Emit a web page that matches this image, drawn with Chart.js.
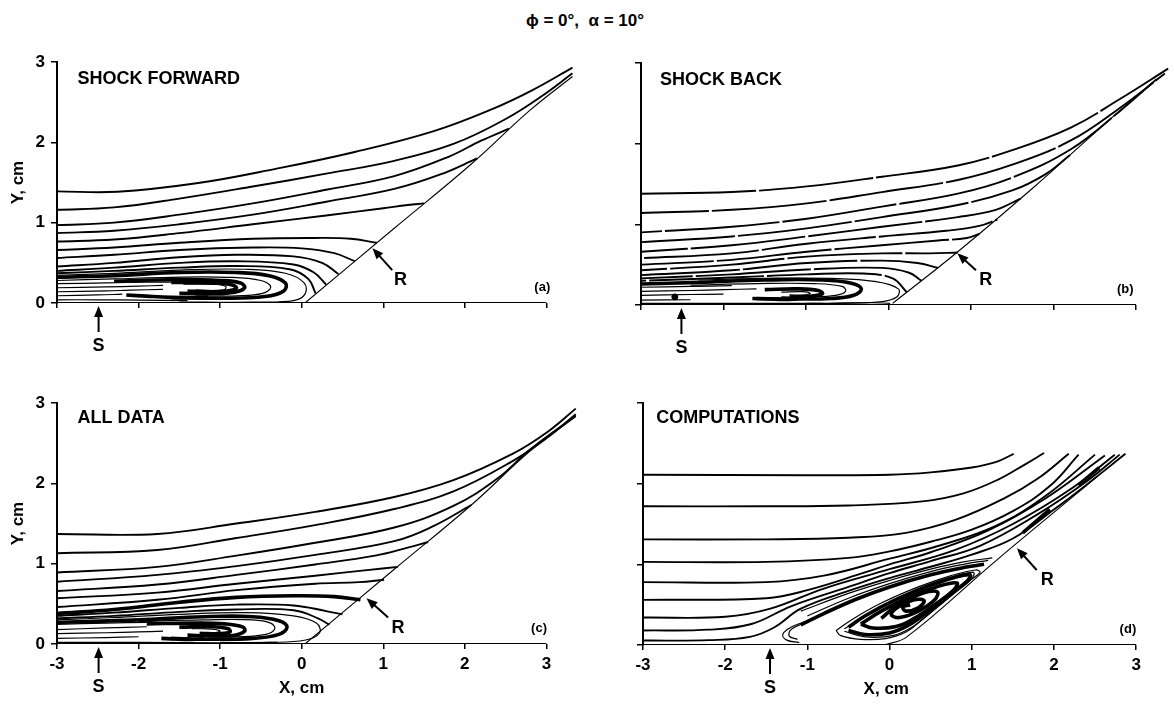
<!DOCTYPE html>
<html>
<head>
<meta charset="utf-8">
<title>Streamlines, phi = 0, alpha = 10</title>
<script src="https://cdn.jsdelivr.net/npm/chart.js@4.4.1/dist/chart.umd.min.js"></script>
<style>
  html, body { margin: 0; padding: 0; background: #fff; }
  body { width: 1174px; height: 706px; position: relative; overflow: hidden; }
  canvas.box { position: absolute; }
  #title { position: absolute; left: 0; top: 11px; width: 1170px; text-align: center;
           font: bold 17px "Liberation Sans", Arial, sans-serif; line-height: 20px; color: #000; }
</style>
</head>
<body>
<div id="title">ϕ = 0°,&nbsp; α = 10°</div>
<canvas id="pa" class="box" width="600" height="320" style="left:0;top:40px"></canvas>
<canvas id="pb" class="box" width="594" height="320" style="left:580px;top:40px"></canvas>
<canvas id="pc" class="box" width="600" height="326" style="left:0;top:380px"></canvas>
<canvas id="pd" class="box" width="594" height="326" style="left:580px;top:380px"></canvas>
<script>
const FONT = '"Liberation Sans", Arial, sans-serif';

// axes
const xTicks = [-3, -2, -1, 0, 1, 2, 3];
const yTicks = [0, 1, 2, 3];
const wallLine = [[-3, 0], [3, 0]];

// (a) shock forward
const aShock = [[0.04, 0], [1.135, 0.93], [2.08, 1.73], [2.8, 2.4], [3.32, 2.82]];
const aOuter = [
  [[-3, 1.39], [-2.26, 1.385], [-1.29, 1.49], [-0.32, 1.67], [0.65, 1.88], [1.62, 2.14], [2.35, 2.42], [2.83, 2.65], [3.32, 2.93]],
  [[-3, 1.16], [-2.3, 1.19], [-1.5, 1.3], [-0.6, 1.45], [0.3, 1.61], [1.135, 1.77], [1.86, 1.98], [2.5, 2.29], [2.95, 2.58], [3.32, 2.86]],
  [[-3, 0.97], [-2.3, 1.0], [-1.5, 1.1], [-0.6, 1.24], [0.3, 1.41], [1.135, 1.58], [1.8, 1.82], [2.2, 2.02], [2.54, 2.17]],
  [[-3, 0.87], [-2.3, 0.9], [-1.5, 0.98], [-0.6, 1.1], [0.3, 1.26], [1.135, 1.42], [1.7, 1.6], [2.15, 1.8]],
  [[-3, 0.765], [-2.3, 0.79], [-1.5, 0.87], [-0.6, 0.98], [0.3, 1.09], [1.0, 1.18], [1.3, 1.22], [1.5, 1.24]],
  [[-3, 0.66], [-2.3, 0.69], [-1.5, 0.75], [-0.6, 0.8], [0.165, 0.81], [0.6, 0.8], [0.92, 0.75]],
  [[-3, 0.56], [-2.3, 0.6], [-1.5, 0.66], [-0.6, 0.69], [0.0, 0.68], [0.4, 0.62], [0.65, 0.52]],
  [[-3, 0.455], [-2.3, 0.5], [-1.5, 0.57], [-0.8, 0.6], [-0.1, 0.58], [0.25, 0.5], [0.45, 0.36]],
  [[-3, 0.4], [-2.3, 0.44], [-1.5, 0.5], [-0.8, 0.52], [-0.1, 0.48], [0.15, 0.38], [0.3, 0.23]],
  [[-3, 0.37], [-2.3, 0.4], [-1.5, 0.44], [-0.8, 0.46], [-0.15, 0.42], [0.08, 0.3], [0.17, 0.12]]
];
const aThin = [
  [[-3, 0.345], [-2.3, 0.37], [-1.5, 0.41], [-0.7, 0.42], [-0.2, 0.37], [0.03, 0.25], [0.04, 0.11], [-0.1, 0.03], [-0.6, 0.012], [-1.5, 0.01]],
  [[-3, 0.28], [-2.3, 0.3], [-1.6, 0.32], [-0.9, 0.32], [-0.5, 0.28], [-0.38, 0.2], [-0.48, 0.12], [-0.8, 0.09], [-1.3, 0.085]],
  [[-1.45, 0.235], [-1.05, 0.23], [-0.93, 0.205], [-0.95, 0.165], [-1.1, 0.155], [-1.3, 0.165]],
  [[-3, 0.24], [-2.4, 0.25], [-1.9, 0.26], [-1.6, 0.26]],
  [[-3, 0.19], [-2.4, 0.2], [-2.0, 0.21], [-1.7, 0.22]],
  [[-3, 0.14], [-2.4, 0.15], [-2.1, 0.16], [-1.7, 0.17]],
  [[-3, 0.09], [-2.5, 0.1], [-2.2, 0.11]],
  [[-3, 0.04], [-2.5, 0.04], [-2.0, 0.035], [-1.4, 0.03]]
];
const aHeavy = [
  [[-3, 0.32], [-2.3, 0.34], [-1.5, 0.38], [-0.8, 0.38], [-0.4, 0.34], [-0.2, 0.25], [-0.22, 0.15], [-0.45, 0.08], [-1.0, 0.06], [-1.6, 0.065]],
  [[-2.3, 0.27], [-1.6, 0.29], [-1.0, 0.28], [-0.75, 0.25], [-0.7, 0.19], [-0.82, 0.135], [-1.1, 0.115], [-1.5, 0.12]],
  [[-1.6, 0.255], [-1.05, 0.25], [-0.85, 0.225], [-0.8, 0.185], [-0.92, 0.15], [-1.2, 0.14], [-1.4, 0.15]],
  [[-2.15, 0.1], [-1.9, 0.085], [-1.6, 0.07], [-1.35, 0.065], [-1.15, 0.07]]
];

// (b) shock back
const bShock = [[0.05, 0.02], [0.84, 0.66], [1.75, 1.45], [2.66, 2.28], [3.2, 2.76]];
const bOuter = [
  [[-3, 1.38], [-1.9, 1.4], [-0.99, 1.47], [-0.08, 1.59], [0.84, 1.73], [1.5, 1.92], [2.21, 2.2], [2.8, 2.55], [3.39, 2.93]],
  [[-3, 1.14], [-1.9, 1.18], [-0.99, 1.26], [-0.08, 1.4], [0.84, 1.55], [1.5, 1.74], [2.21, 2.04], [2.8, 2.44], [3.35, 2.87]],
  [[-3, 0.9], [-1.9, 0.97], [-0.99, 1.07], [-0.08, 1.22], [0.84, 1.38], [1.5, 1.58], [2.21, 1.93], [2.8, 2.4], [3.25, 2.8]],
  [[-3, 0.78], [-1.9, 0.85], [-0.99, 0.95], [-0.08, 1.09], [0.84, 1.24], [1.5, 1.42], [1.9, 1.62], [2.2, 1.86]],
  [[-3, 0.66], [-1.9, 0.74], [-0.99, 0.85], [-0.08, 0.97], [0.84, 1.09], [1.3, 1.18], [1.6, 1.32]],
  [[-3, 0.58], [-1.9, 0.64], [-0.99, 0.76], [-0.08, 0.85], [0.7, 0.92], [1.1, 0.98], [1.32, 1.06]],
  [[-3, 0.5], [-1.9, 0.56], [-0.99, 0.66], [-0.08, 0.74], [0.6, 0.8], [0.95, 0.83], [1.1, 0.88]],
  [[-3, 0.43], [-1.9, 0.5], [-0.99, 0.6], [-0.08, 0.64], [0.5, 0.64], [0.84, 0.65]],
  [[-3, 0.37], [-1.9, 0.43], [-0.99, 0.52], [-0.08, 0.55], [0.35, 0.52], [0.6, 0.46]],
  [[-3, 0.33], [-1.9, 0.38], [-0.99, 0.44], [-0.08, 0.46], [0.25, 0.4], [0.4, 0.3]],
  [[-3, 0.3], [-1.9, 0.34], [-0.99, 0.38], [-0.3, 0.39], [0.05, 0.33], [0.22, 0.16]]
];
const bThin = [
  [[-2.3, 0.31], [-1.5, 0.33], [-0.7, 0.33], [-0.15, 0.29], [0.12, 0.2], [0.1, 0.1], [-0.1, 0.04], [-0.6, 0.02], [-1.0, 0.02]],
  [[-2.4, 0.245], [-1.6, 0.265], [-0.9, 0.265], [-0.56, 0.23], [-0.52, 0.17], [-0.64, 0.12], [-0.95, 0.1], [-1.3, 0.1]],
  [[-1.3, 0.16], [-1.05, 0.165], [-0.95, 0.145], [-1.02, 0.125], [-1.2, 0.125]],
  [[-3, 0.22], [-2.4, 0.23], [-1.9, 0.24]],
  [[-3, 0.17], [-2.4, 0.18], [-2.0, 0.19], [-1.6, 0.2]],
  [[-3, 0.12], [-2.4, 0.13], [-2.0, 0.135]],
  [[-3, 0.06], [-2.4, 0.065]],
  [[-3, 0.02], [-2, 0.02], [-1, 0.02], [-0.2, 0.03], [0.02, 0.02]]
];
const bHeavy = [
  [[-3, 0.26], [-2.3, 0.28], [-1.5, 0.31], [-0.8, 0.31], [-0.45, 0.27], [-0.33, 0.2], [-0.42, 0.12], [-0.7, 0.08], [-1.2, 0.075], [-1.6, 0.08]],
  [[-1.5, 0.19], [-1.1, 0.2], [-0.85, 0.18], [-0.8, 0.14], [-0.93, 0.11], [-1.2, 0.1]],
  [[-1.65, 0.08], [-1.45, 0.075], [-1.25, 0.07], [-1.1, 0.075]]
];
const bDot = [[-2.59, 0.1]];

// (c) all data
const cShock = [[0.04, 0], [1.135, 0.93], [2.08, 1.73], [2.8, 2.4], [3.36, 2.83]];
const cOuter = [
  [[-3, 1.37], [-1.77, 1.37], [-0.8, 1.5], [0.165, 1.645], [1.135, 1.83], [1.86, 2.04], [2.59, 2.37], [3.0, 2.63], [3.36, 2.93]],
  [[-3, 1.13], [-1.77, 1.17], [-0.8, 1.32], [0.165, 1.48], [1.135, 1.68], [1.86, 1.9], [2.59, 2.28], [3.0, 2.56], [3.36, 2.86]],
  [[-3, 0.89], [-1.77, 0.96], [-0.8, 1.1], [0.165, 1.26], [1.135, 1.45], [1.86, 1.72], [2.4, 2.06], [2.8, 2.42], [3.36, 2.84]],
  [[-3, 0.775], [-1.77, 0.86], [-0.8, 0.97], [0.165, 1.11], [1.135, 1.28], [1.6, 1.46], [2.08, 1.73]],
  [[-3, 0.66], [-1.77, 0.74], [-0.8, 0.86], [0.165, 0.99], [0.9, 1.1], [1.3, 1.2], [1.55, 1.27]],
  [[-3, 0.57], [-1.77, 0.64], [-0.8, 0.75], [0.165, 0.85], [0.8, 0.92], [1.18, 0.96]],
  [[-3, 0.46], [-1.77, 0.55], [-0.8, 0.67], [0.165, 0.75], [0.7, 0.77], [1.01, 0.8]],
  [[-3, 0.35], [-2.3, 0.39], [-1.5, 0.45], [-0.8, 0.49], [-0.1, 0.48], [0.3, 0.41], [0.5, 0.37]],
  [[-3, 0.32], [-2.3, 0.35], [-1.5, 0.4], [-0.8, 0.43], [-0.1, 0.42], [0.2, 0.32], [0.34, 0.24]]
];
const cThin = [
  [[-3, 0.3], [-2.3, 0.33], [-1.5, 0.37], [-0.7, 0.39], [-0.1, 0.35], [0.18, 0.26], [0.22, 0.14], [0.05, 0.05], [-0.4, 0.02], [-1.0, 0.02]],
  [[-2, 0.28], [-1.2, 0.3], [-0.6, 0.3], [-0.38, 0.26], [-0.33, 0.19], [-0.44, 0.12], [-0.8, 0.09], [-1.2, 0.09]],
  [[-1.35, 0.19], [-1.1, 0.185], [-1.0, 0.16], [-1.08, 0.14], [-1.25, 0.145]],
  [[-3, 0.245], [-2.4, 0.26], [-1.9, 0.27]],
  [[-3, 0.18], [-2.4, 0.2], [-1.9, 0.215]],
  [[-3, 0.13], [-2.4, 0.14], [-2.0, 0.15], [-1.7, 0.16]],
  [[-3, 0.07], [-2.4, 0.08], [-2.0, 0.09]],
  [[-3, 0.02], [-2.0, 0.02], [-1.0, 0.015], [-0.3, 0.02]]
];
const cHeavy = [
  [[-3, 0.38], [-2.3, 0.43], [-1.5, 0.52], [-0.8, 0.58], [-0.1, 0.6], [0.4, 0.59], [0.72, 0.55]],
  [[-3, 0.27], [-2, 0.3], [-1.2, 0.34], [-0.6, 0.34], [-0.28, 0.29], [-0.18, 0.21], [-0.28, 0.12], [-0.6, 0.07], [-1.2, 0.06], [-1.6, 0.07]],
  [[-1.9, 0.25], [-1.3, 0.26], [-0.95, 0.25], [-0.72, 0.21], [-0.7, 0.16], [-0.82, 0.11], [-1.1, 0.1], [-1.4, 0.11]],
  [[-1.5, 0.21], [-1.1, 0.215], [-0.9, 0.19], [-0.88, 0.15], [-1.0, 0.13], [-1.25, 0.13]],
  [[-1.72, 0.07], [-1.55, 0.062], [-1.35, 0.058], [-1.2, 0.065]]
];

// (d) computations
const dShock = [[-0.06, 0], [0.21, 0.1], [1.3, 1.05], [2.53, 2.09]];
const dOuter = [
  [[-3, 2.11], [-1, 2.105], [0, 2.11], [0.5, 2.14], [1.0, 2.2], [1.3, 2.27], [1.51, 2.37]],
  [[-3, 1.72], [-1.5, 1.72], [-0.5, 1.73], [0.4, 1.78], [0.9, 1.88], [1.32, 2.05], [1.65, 2.24], [1.88, 2.38]],
  [[-3, 1.31], [-1.5, 1.31], [-0.5, 1.33], [0.2, 1.39], [0.8, 1.55], [1.4, 1.82], [1.8, 2.06], [2.18, 2.37]],
  [[-3, 1.03], [-1.5, 1.03], [-0.5, 1.08], [0, 1.16], [0.5, 1.28], [1.0, 1.43], [1.5, 1.66], [1.95, 1.97], [2.3, 2.36]],
  [[-3, 0.78], [-1.5, 0.78], [-0.8, 0.86], [0, 1.07], [0.6, 1.23], [1.3, 1.48], [1.9, 1.85], [2.5, 2.36]],
  [[-3, 0.56], [-1.5, 0.58], [-1.0, 0.68], [-0.3, 0.9], [0, 1.0], [0.5, 1.15], [1.2, 1.42], [1.9, 1.82], [2.62, 2.35]],
  [[-3, 0.34], [-2, 0.35], [-1.45, 0.45], [-0.8, 0.7], [0, 0.94], [0.8, 1.18], [1.5, 1.5], [2.2, 1.93], [2.74, 2.36]],
  [[-3, 0.18], [-2.2, 0.19], [-1.68, 0.26], [-1.2, 0.48], [-0.5, 0.72], [0, 0.89], [0.5, 1.04], [1.1, 1.23], [1.8, 1.62], [2.4, 2.03], [2.8, 2.36]],
  [[-3, 0.055], [-2.2, 0.06], [-1.7, 0.1], [-1.4, 0.22], [-1.08, 0.45], [-0.5, 0.67], [0, 0.83], [0.5, 0.97], [1.0, 1.12], [1.5, 1.32], [2.0, 1.68], [2.4, 1.99], [2.87, 2.37]]
];
const dThin = [
  [[-1.08, 0.42], [-0.5, 0.64], [0, 0.8], [0.5, 0.94], [0.9, 1.03], [1.25, 1.08]],
  [[-1.0, 0.36], [-0.5, 0.58], [0, 0.76], [0.5, 0.91], [0.9, 1.0], [1.2, 1.05]],
  [[-0.65, 0.18], [-0.45, 0.32], [-0.1, 0.52], [0.35, 0.72], [0.75, 0.86], [1.05, 0.93], [1.1, 0.9], [0.95, 0.78], [0.65, 0.53], [0.4, 0.32], [0.2, 0.16], [-0.05, 0.08], [-0.35, 0.07], [-0.6, 0.12], [-0.65, 0.18]],
  [[-0.55, 0.2], [-0.35, 0.33], [0.0, 0.53], [0.4, 0.72], [0.78, 0.85], [1.02, 0.9], [1.0, 0.82], [0.8, 0.65], [0.5, 0.4], [0.3, 0.24], [0.05, 0.12], [-0.3, 0.1], [-0.55, 0.17]],
  [[-1.0, 0.3], [-1.2, 0.22], [-1.3, 0.13], [-1.25, 0.06], [-1.1, 0.03]],
  [[-1.05, 0.27], [-1.2, 0.19], [-1.22, 0.11], [-1.12, 0.07]]
];
const dHeavy = [
  [[-1.08, 0.25], [-0.8, 0.39], [-0.4, 0.57], [0, 0.72], [0.5, 0.87], [0.9, 0.96], [1.15, 1.0]],
  [[-0.5, 0.22], [-0.3, 0.36], [0.05, 0.55], [0.45, 0.72], [0.8, 0.84], [0.98, 0.87], [0.95, 0.8], [0.7, 0.6], [0.45, 0.4], [0.22, 0.24], [0, 0.15], [-0.3, 0.13], [-0.5, 0.18]],
  [[-0.35, 0.26], [-0.1, 0.42], [0.25, 0.6], [0.6, 0.73], [0.82, 0.77], [0.78, 0.68], [0.55, 0.5], [0.3, 0.33], [0.08, 0.23], [-0.2, 0.21], [-0.35, 0.26]],
  [[-0.1, 0.33], [0.1, 0.5], [0.4, 0.64], [0.58, 0.66], [0.55, 0.56], [0.35, 0.42], [0.12, 0.34], [0.02, 0.38], [0.12, 0.48], [0.3, 0.56], [0.42, 0.55], [0.35, 0.46], [0.2, 0.42], [0.16, 0.47], [0.25, 0.5]],
  [[1.62, 1.39], [1.95, 1.68]],
  [[2.3, 1.98], [2.55, 2.2]]
];

const decor = {
  id: 'decor',
  afterDatasetsDraw(chart, args, o) {
    const { ctx, chartArea: a, scales: { x, y } } = chart;
    const px = v => x.getPixelForValue(v);
    const py = v => y.getPixelForValue(v);
    ctx.save();
    ctx.fillStyle = '#000';
    ctx.strokeStyle = '#000';
    (o.texts || []).forEach(t => {
      ctx.font = `bold ${t.size}px ${FONT}`;
      ctx.textAlign = t.align || 'center';
      ctx.textBaseline = t.base || 'middle';
      if (t.rot) {
        ctx.save();
        ctx.translate(a.left + t.dx, (a.top + a.bottom) / 2);
        ctx.rotate(-Math.PI / 2);
        ctx.fillText(t.t, 0, 0);
        ctx.restore();
      } else {
        const yy = t.dy !== undefined ? a.bottom + t.dy : py(t.y);
        ctx.fillText(t.t, px(t.x), yy);
      }
    });
    (o.arrows || []).forEach(r => {
      let x1, y1, x2, y2;
      if (r.from) { x1 = px(r.from[0]); y1 = py(r.from[1]); x2 = px(r.to[0]); y2 = py(r.to[1]); }
      else { x1 = x2 = px(r.x); y1 = a.bottom + r.dy1; y2 = a.bottom + r.dy2; }
      const ang = Math.atan2(y2 - y1, x2 - x1), L = 11, W = 4.5;
      ctx.lineWidth = 2;
      ctx.beginPath();
      ctx.moveTo(x1, y1);
      ctx.lineTo(x2 - Math.cos(ang) * L * 0.7, y2 - Math.sin(ang) * L * 0.7);
      ctx.stroke();
      ctx.beginPath();
      ctx.moveTo(x2, y2);
      ctx.lineTo(x2 - L * Math.cos(ang) + W * Math.sin(ang), y2 - L * Math.sin(ang) - W * Math.cos(ang));
      ctx.lineTo(x2 - L * Math.cos(ang) - W * Math.sin(ang), y2 - L * Math.sin(ang) + W * Math.cos(ang));
      ctx.closePath();
      ctx.fill();
    });
    ctx.restore();
  }
};

function makePanel(id, parts, lay, notes) {
  const datasets = [];
  const add = (list, w, extra) => list.forEach((pts, i) => datasets.push(Object.assign({
    data: pts.map(([x, y]) => ({ x, y })),
    borderColor: '#000', backgroundColor: '#000', borderWidth: w,
    pointRadius: 0, showLine: true, tension: 0.4, fill: false
  }, typeof extra === 'function' ? extra(i) : (extra || {}))));
  // broken traces in the shock-back data: stagger the gaps line by line
  add(parts.outer, 1.9, parts.dash ? i => ({ borderDash: parts.dash, borderDashOffset: (i * 47) % 120 }) : null);
  add(parts.thin, 1.2);
  add(parts.heavy, 3.6);
  add([parts.shock], 1.1);
  add([wallLine], 2.2, { tension: 0 });
  if (parts.dots) datasets.push({ data: parts.dots.map(([x, y]) => ({ x, y })), pointRadius: 3, backgroundColor: '#000', borderColor: '#000', showLine: false });

  const tickFont = { family: FONT, size: 17, weight: 'bold' };
  new Chart(document.getElementById(id), {
    type: 'scatter',
    data: { datasets },
    options: {
      responsive: false,
      animation: false,
      events: [],
      layout: { padding: lay.pad },
      plugins: { legend: { display: false }, tooltip: { enabled: false }, decor: notes },
      scales: {
        x: {
          type: 'linear', min: -3, max: 3.4,
          afterBuildTicks: s => { s.ticks = xTicks.map(v => ({ value: v })); },
          afterFit: s => { s.height = lay.xh; },
          border: { display: false },
          grid: { drawOnChartArea: false, drawTicks: true, tickLength: 5, color: '#000', lineWidth: 1.5 },
          ticks: { display: lay.xLabels, color: '#000', padding: 5, font: tickFont, maxRotation: 0, autoSkip: false, callback: v => String(v) }
        },
        y: {
          type: 'linear', min: 0, max: 3,
          afterBuildTicks: s => { s.ticks = yTicks.map(v => ({ value: v })); },
          afterFit: s => { s.width = lay.yw; },
          border: { display: true, color: '#000', width: 2 },
          grid: { drawOnChartArea: false, drawTicks: true, tickLength: 6, color: '#000', lineWidth: 1.5 },
          ticks: { display: lay.yLabels, color: '#000', padding: 6, font: tickFont, callback: v => String(v) }
        }
      }
    },
    plugins: [decor]
  });
}

makePanel('pa', { outer: aOuter, thin: aThin, heavy: aHeavy, shock: aShock },
  { yw: 57, xh: 12, pad: { left: 0, top: 22, right: 21, bottom: 45 }, xLabels: false, yLabels: true },
  {
    texts: [
      { t: 'SHOCK FORWARD', x: -2.75, y: 2.73, size: 18, align: 'left', base: 'alphabetic' },
      { t: '(a)', x: 2.95, y: 0.19, size: 13 },
      { t: 'R', x: 1.21, y: 0.29, size: 18 },
      { t: 'S', x: -2.49, dy: 43, size: 18 },
      { t: 'Y, cm', dx: -39, rot: true, size: 17 }
    ],
    arrows: [{ from: [1.11, 0.41], to: [0.868, 0.683] }, { x: -2.49, dy1: 29, dy2: 3 }]
  });

makePanel('pb', { outer: bOuter, thin: bThin, heavy: bHeavy, shock: bShock, dots: bDot, dash: [115, 3] },
  { yw: 12, xh: 12, pad: { left: 49, top: 23, right: 0, bottom: 43 }, xLabels: false, yLabels: false },
  {
    texts: [
      { t: 'SHOCK BACK', x: -2.77, y: 2.73, size: 18, align: 'left', base: 'alphabetic' },
      { t: '(b)', x: 2.87, y: 0.19, size: 13 },
      { t: 'R', x: 1.18, y: 0.31, size: 18 },
      { t: 'S', x: -2.51, dy: 43, size: 18 }
    ],
    arrows: [{ from: [1.06, 0.43], to: [0.835, 0.64] }, { x: -2.51, dy1: 29, dy2: 3 }]
  });

makePanel('pc', { outer: cOuter, thin: cThin, heavy: cHeavy, shock: cShock },
  { yw: 57, xh: 36, pad: { left: 0, top: 23, right: 21, bottom: 26 }, xLabels: true, yLabels: true },
  {
    texts: [
      { t: 'ALL DATA', x: -2.75, y: 2.75, size: 18, align: 'left', base: 'alphabetic' },
      { t: '(c)', x: 2.91, y: 0.19, size: 13 },
      { t: 'R', x: 1.18, y: 0.195, size: 18 },
      { t: 'S', x: -2.49, dy: 43, size: 18 },
      { t: 'X, cm', x: 0, dy: 44, size: 17 },
      { t: 'Y, cm', dx: -39, rot: true, size: 17 }
    ],
    arrows: [{ from: [1.06, 0.33], to: [0.795, 0.57] }, { x: -2.49, dy1: 29, dy2: 3 }]
  });

makePanel('pd', { outer: dOuter, thin: dThin, heavy: dHeavy, shock: dShock },
  { yw: 12, xh: 36, pad: { left: 51, top: 23, right: 5, bottom: 25 }, xLabels: true, yLabels: false },
  {
    texts: [
      { t: 'COMPUTATIONS', x: -2.84, y: 2.75, size: 18, align: 'left', base: 'alphabetic' },
      { t: '(d)', x: 2.9, y: 0.19, size: 13 },
      { t: 'R', x: 1.92, y: 0.807, size: 18 },
      { t: 'S', x: -1.455, dy: 43, size: 18 },
      { t: 'X, cm', x: -0.04, dy: 44, size: 17 }
    ],
    arrows: [{ from: [1.79, 0.93], to: [1.55, 1.2] }, { x: -1.455, dy1: 29, dy2: 3 }]
  });
</script>
</body>
</html>
